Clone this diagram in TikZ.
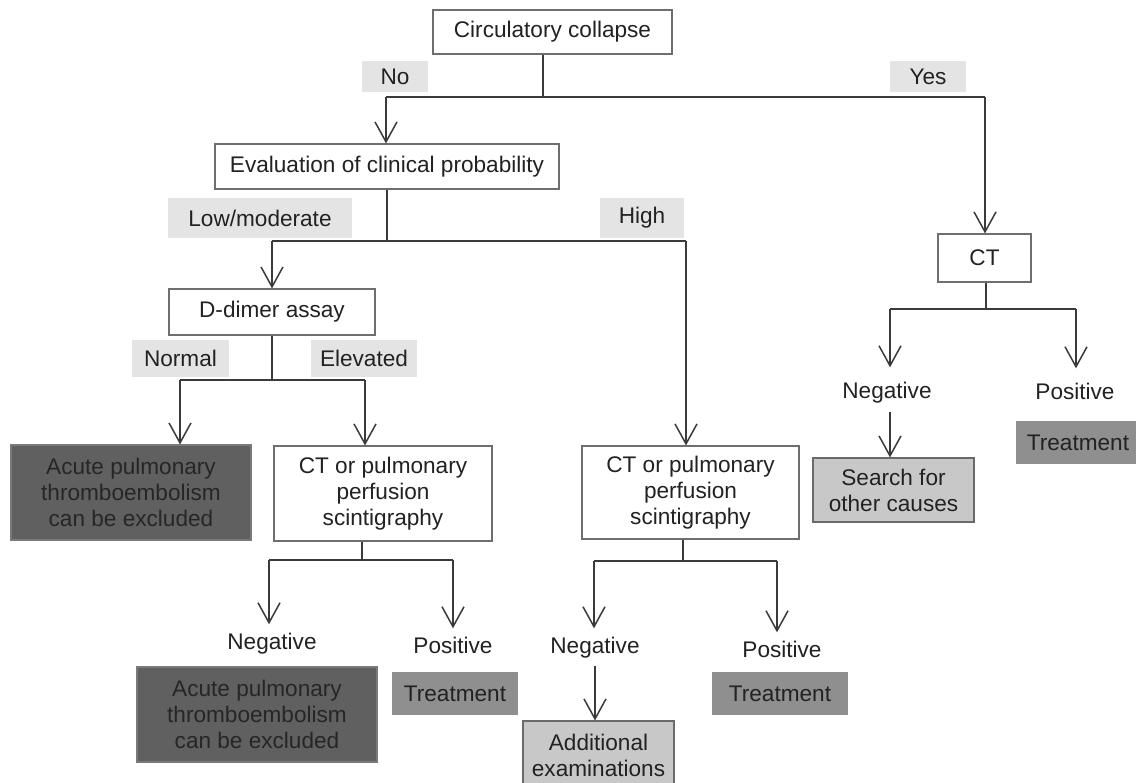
\documentclass[tikz,border=0pt]{standalone}
\usepackage{fontspec}
\setmainfont{Liberation Sans}
\usetikzlibrary{arrows.meta}
\definecolor{txt}{HTML}{222222}
\definecolor{bord}{HTML}{6E6E6E}
\definecolor{linec}{HTML}{3A3A3A}
\definecolor{darkf}{HTML}{606060}
\definecolor{darkb}{HTML}{7A7A7A}
\definecolor{midf}{HTML}{8F8F8F}
\definecolor{lightf}{HTML}{C8C8C8}
\definecolor{lightb}{HTML}{6A6A6A}
\definecolor{labf}{HTML}{E4E4E4}
\begin{document}
\begin{tikzpicture}[x=1pt,y=-1pt,
  font=\fontsize{22.6}{26}\selectfont,
  box/.style={draw=bord, line width=1.1pt, fill=white, inner sep=0pt, align=center, text=txt},
  darkbox/.style={box, fill=darkf, draw=darkb, text=black!85},
  midbox/.style={draw=none, fill=midf, inner sep=0pt, align=center, text=txt},
  lightbox/.style={box, fill=lightf, draw=lightb},
  lab/.style={fill=labf, inner sep=0pt, text=txt},
  res/.style={text=txt, inner sep=8pt, text height=16.5pt, text depth=4.5pt},
  con/.style={draw=linec, line width=1.5pt},
  arr/.style={con, -{Straight Barb[length=20pt,width=22pt]}}
]
\useasboundingbox (0,0) rectangle (1136,783);
\fill[white] (0,0) rectangle (1136,783);

% main boxes
\node[box, minimum width=239pt, minimum height=44pt] (cc) at (552.5,32) {Circulatory collapse};
\node[box, minimum width=344pt, minimum height=45pt] (eval) at (387,166.5) {Evaluation of clinical probability};
\node[box, minimum width=206pt, minimum height=46pt] (dd) at (272,312) {D-dimer assay};
\node[darkbox, minimum width=240pt, minimum height=95pt] (acute1) at (131,492.5) {Acute pulmonary\\thromboembolism\\can be excluded};
\node[box, minimum width=218pt, minimum height=95pt] (ctL) at (383,493.5) {CT or pulmonary\\perfusion\\scintigraphy};
\node[box, minimum width=217pt, minimum height=93pt] (ctR) at (690.5,492.5) {CT or pulmonary\\perfusion\\scintigraphy};
\node[box, minimum width=93pt, minimum height=48pt] (ct) at (984.5,258) {CT};
\node[darkbox, minimum width=240pt, minimum height=95pt] (acute2) at (257,714.5) {Acute pulmonary\\thromboembolism\\can be excluded};
\node[midbox, minimum width=126pt, minimum height=43pt] (treatL) at (455,693.5) {Treatment};
\node[midbox, minimum width=136pt, minimum height=43pt] (treatM) at (780,693.5) {Treatment};
\node[midbox, minimum width=124pt, minimum height=43pt] (treatR) at (1078,442.5) {Treatment};
\node[lightbox, minimum width=151pt, minimum height=68pt] (addl) at (598.5,755) {Additional\\examinations};
\node[lightbox, minimum width=161pt, minimum height=64pt] (search) at (893.5,490) {Search for\\other causes};

% branch labels
\node[lab, minimum width=66pt, minimum height=31pt] (lno) at (395,76.5) {No};
\node[lab, minimum width=76pt, minimum height=31pt] (lyes) at (928,76.5) {Yes};
\node[lab, minimum width=184pt, minimum height=40pt] (llow) at (260,218) {Low/moderate};
\node[lab, minimum width=84pt, minimum height=40pt] (lhigh) at (642,218) {High};
\node[lab, minimum width=97pt, minimum height=37pt] (lnorm) at (180.5,358.5) {Normal};
\node[lab, minimum width=106pt, minimum height=37pt] (lelev) at (364,358.5) {Elevated};

% result texts
\node[res] (negA) at (272,643) {Negative};
\node[res] (posA) at (453,647) {Positive};
\node[res] (negB) at (595,647) {Negative};
\node[res] (posB) at (782,651) {Positive};
\node[res] (negC) at (887,393) {Negative};
\node[res] (posC) at (1075,394) {Positive};

% junction coordinates
\coordinate (j0) at (543,97);
\coordinate (jNo) at (386,97);
\coordinate (jYes) at (985,97);
\coordinate (j1) at (387,241);
\coordinate (jLow) at (272,241);
\coordinate (jHigh) at (686,241);
\coordinate (j2) at (272,380);
\coordinate (jN) at (180,380);
\coordinate (jE) at (365,380);
\coordinate (j3) at (362,560);
\coordinate (jL1) at (269,560);
\coordinate (jL2) at (453,560);
\coordinate (j4) at (683,561);
\coordinate (jR1) at (594,561);
\coordinate (jR2) at (777,561);
\coordinate (j5) at (986,309);
\coordinate (jC1) at (890,309);
\coordinate (jC2) at (1076,309);

% connectors
\draw[con] (cc.south -| j0) -- (j0);
\draw[con] (jNo) -- (jYes);
\draw[arr] (jNo) -- (eval.north -| jNo);
\draw[arr] (jYes) -- (ct.north -| jYes);

\draw[con] (eval.south -| j1) -- (j1);
\draw[con] (jLow) -- (jHigh);
\draw[arr] (jLow) -- (dd.north -| jLow);
\draw[arr] (jHigh) -- (ctR.north -| jHigh);

\draw[con] (dd.south -| j2) -- (j2);
\draw[con] (jN) -- (jE);
\draw[arr] (jN) -- (acute1.north -| jN);
\draw[arr] (jE) -- (ctL.north -| jE);

\draw[con] (ctL.south -| j3) -- (j3);
\draw[con] (jL1) -- (jL2);
\draw[arr] (jL1) -- (negA.north -| jL1);
\draw[arr] (jL2) -- (posA.north -| jL2);

\draw[con] (ctR.south -| j4) -- (j4);
\draw[con] (jR1) -- (jR2);
\draw[arr] (jR1) -- (negB.north -| jR1);
\draw[arr] (jR2) -- (posB.north -| jR2);
\draw[arr] (negB.south) -- (negB.south |- addl.north);

\draw[con] (ct.south -| j5) -- (j5);
\draw[con] (jC1) -- (jC2);
\draw[arr, shorten >=7pt] (jC1) -- (negC.north -| jC1);
\draw[arr, shorten >=7pt] (jC2) -- (posC.north -| jC2);
\draw[arr] (negC.south -| jC1) -- (search.north -| jC1);
\end{tikzpicture}
\end{document}
